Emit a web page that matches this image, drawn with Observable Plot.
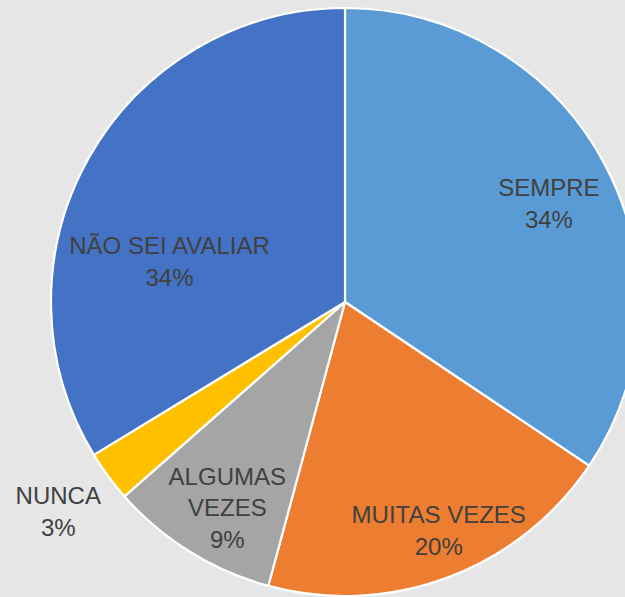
<!DOCTYPE html>
<html>
<head>
<meta charset="utf-8">
<script src="https://cdn.jsdelivr.net/npm/d3@7"></script>
<script src="https://cdn.jsdelivr.net/npm/@observablehq/plot@0.6"></script>
<style>
  html, body { margin: 0; padding: 0; background: #e7e6e6; overflow: hidden; }
</style>
</head>
<body>
<div id="chart"></div>
<script>
// Data
const categories = ["SEMPRE", "MUITAS VEZES", "ALGUMAS VEZES", "NUNCA", "NÃO SEI AVALIAR"];
const labelText = ["SEMPRE", "MUITAS VEZES", "ALGUMAS\nVEZES", "NUNCA", "NÃO SEI AVALIAR"];
const values = [34.4, 19.8, 9.3, 2.8, 33.7];
const colors = ["#5b9bd5", "#ed7d31", "#a5a5a5", "#ffc000", "#4472c4"];

// Label layout (radius factor, angle shift in degrees relative to slice middle)
const labelRadius = [0.767, 0.842, 0.81, 1.21, 0.614];
const labelShift = [2.5, -1.6, -2.1, 0.2, -16.5];

const W = 625, H = 597;
const cx = 345, cy = 302, R = 294;

const total = d3.sum(values);
const pie = d3.pie().sort(null).value(d => d.value);
const rows = categories.map((c, i) => ({category: c, value: values[i], label: labelText[i], i}));
const arcs = pie(rows);

const labels = arcs.map(a => {
  const i = a.data.i;
  const mid = (a.startAngle + a.endAngle) / 2 + labelShift[i] * Math.PI / 180;
  const r = labelRadius[i];
  return {
    x: r * Math.sin(mid),
    y: r * Math.cos(mid),
    text: a.data.label + "\n" + Math.round(a.data.value / total * 100) + "%"
  };
});

const color = d3.scaleOrdinal(categories, colors);

const pieMark = (index, scales) => {
  const x0 = scales.x(0), y0 = scales.y(0);
  const rad = scales.x(1) - scales.x(0);
  const arcGen = d3.arc().innerRadius(0).outerRadius(rad);
  const g = d3.create("svg:g").attr("transform", `translate(${x0},${y0})`);
  g.selectAll("path")
    .data(arcs)
    .join("path")
    .attr("d", arcGen)
    .attr("fill", d => color(d.data.category))
    .attr("stroke", "#ffffff")
    .attr("stroke-width", 2.2)
    .attr("stroke-linejoin", "round");
  return g.node();
};

const plot = Plot.plot({
  width: W,
  height: H,
  margin: 0,
  x: {domain: [-cx / R, (W - cx) / R], range: [0, W], axis: null},
  y: {domain: [-(H - cy) / R, cy / R], range: [H, 0], axis: null},
  style: {background: "#e7e6e6", overflow: "hidden"},
  marks: [
    pieMark,
    Plot.text(labels, {
      x: "x",
      y: "y",
      text: "text",
      fontSize: 24,
      fontFamily: "Liberation Sans, Arial, sans-serif",
      fill: "#404040",
      lineHeight: 1.33,
      lineAnchor: "middle",
      textAnchor: "middle",
      dy: -3
    })
  ]
});

document.getElementById("chart").appendChild(plot);
</script>
</body>
</html>
